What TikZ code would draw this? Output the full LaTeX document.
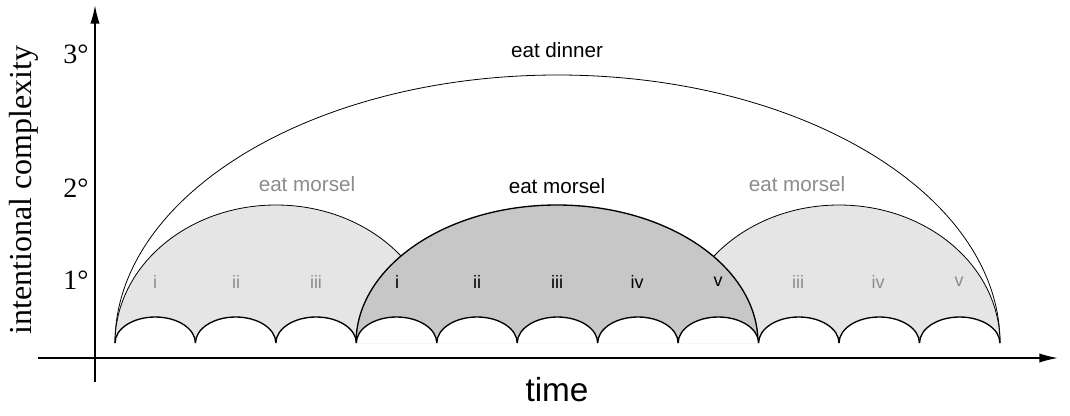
\documentclass[tikz,border=0pt]{standalone}
\usepackage{fontspec}
\usetikzlibrary{arrows.meta}
\setsansfont{Liberation Sans}
\setmainfont{Liberation Serif}
\begin{document}
\begin{tikzpicture}[x=0.75pt,y=-0.75pt,
  lab/.style={font=\sffamily\fontsize{13.5}{13.5}\selectfont},
  grey/.style={text=black!45},
  ml/.style={font=\sffamily\fontsize{15.5}{15.5}\selectfont},
  yl/.style={font=\rmfamily\fontsize{21}{21}\selectfont}]
\useasboundingbox (0,0) rectangle (1070,415);
% big arc
\draw[line width=0.6pt] (115,343) arc[start angle=180,end angle=360,x radius=442.5,y radius=268];
% side morsels
\fill[black!10] (115,343) arc[start angle=180,end angle=360,x radius=161,y radius=138] -- cycle;
\fill[black!10] (678,343) arc[start angle=180,end angle=360,x radius=161,y radius=138] -- cycle;
\draw[line width=0.6pt] (115,343) arc[start angle=180,end angle=360,x radius=161,y radius=138];
\draw[line width=0.6pt] (678,343) arc[start angle=180,end angle=360,x radius=161,y radius=138];
% middle morsel
\fill[black!22] (356,343) arc[start angle=180,end angle=360,x radius=201,y radius=138] -- cycle;
\draw[line width=1pt] (356,343) arc[start angle=180,end angle=360,x radius=201,y radius=138];
% small arcs
\foreach \i in {0,...,10}{
  \pgfmathsetmacro{\xs}{115+80.45*\i}
  \fill[white] (\xs,343) arc[start angle=180,end angle=360,x radius=40.2,y radius=26] -- cycle;
  \draw[line width=1pt] (\xs,343) arc[start angle=180,end angle=360,x radius=40.2,y radius=26];
}
% labels
\node[ml] (dinner) at (557,50) {eat dinner};
\node[ml,grey] (m1) at (307,184) {eat morsel};
\node[ml] (m2) at (557,186) {eat morsel};
\node[ml,grey] (m3) at (797,184) {eat morsel};
\node[lab,grey] (r1) at (155,282) {i};
\node[lab,grey] (r2) at (236,282) {ii};
\node[lab,grey] (r3) at (316,282) {iii};
\node[lab] (r4) at (397,282) {i};
\node[lab] (r5) at (477,282) {ii};
\node[lab] (r6) at (557,282) {iii};
\node[lab] (r7) at (637,282) {iv};
\node[lab] (r8) at (718,282) {v};
\node[lab,grey] (r9) at (798,282) {iii};
\node[lab,grey] (r10) at (878,282) {iv};
\node[lab,grey] (r11) at (959,282) {v};
% axes
\coordinate (yb) at (95,382);
\coordinate (yt) at (95,5);
\coordinate (xl) at (38,358);
\coordinate (xr) at (1058,358);
\draw[line width=1.2pt,-{Latex[length=14pt,width=7pt]}] (yb) -- (yt);
\draw[line width=1.2pt,-{Latex[length=14pt,width=7pt]}] (xl) -- (xr);
\node[yl] (d3) at (76,54) {3°};
\node[yl] (d2) at (76,188) {2°};
\node[yl] (d1) at (76,280) {1°};
\node[font=\rmfamily\fontsize{24}{24}\selectfont,rotate=90] (ylab) at (24,190) {intentional complexity};
\node[font=\sffamily\fontsize{25}{25}\selectfont] (xlab) at (557,390) {time};
\end{tikzpicture}
\end{document}
